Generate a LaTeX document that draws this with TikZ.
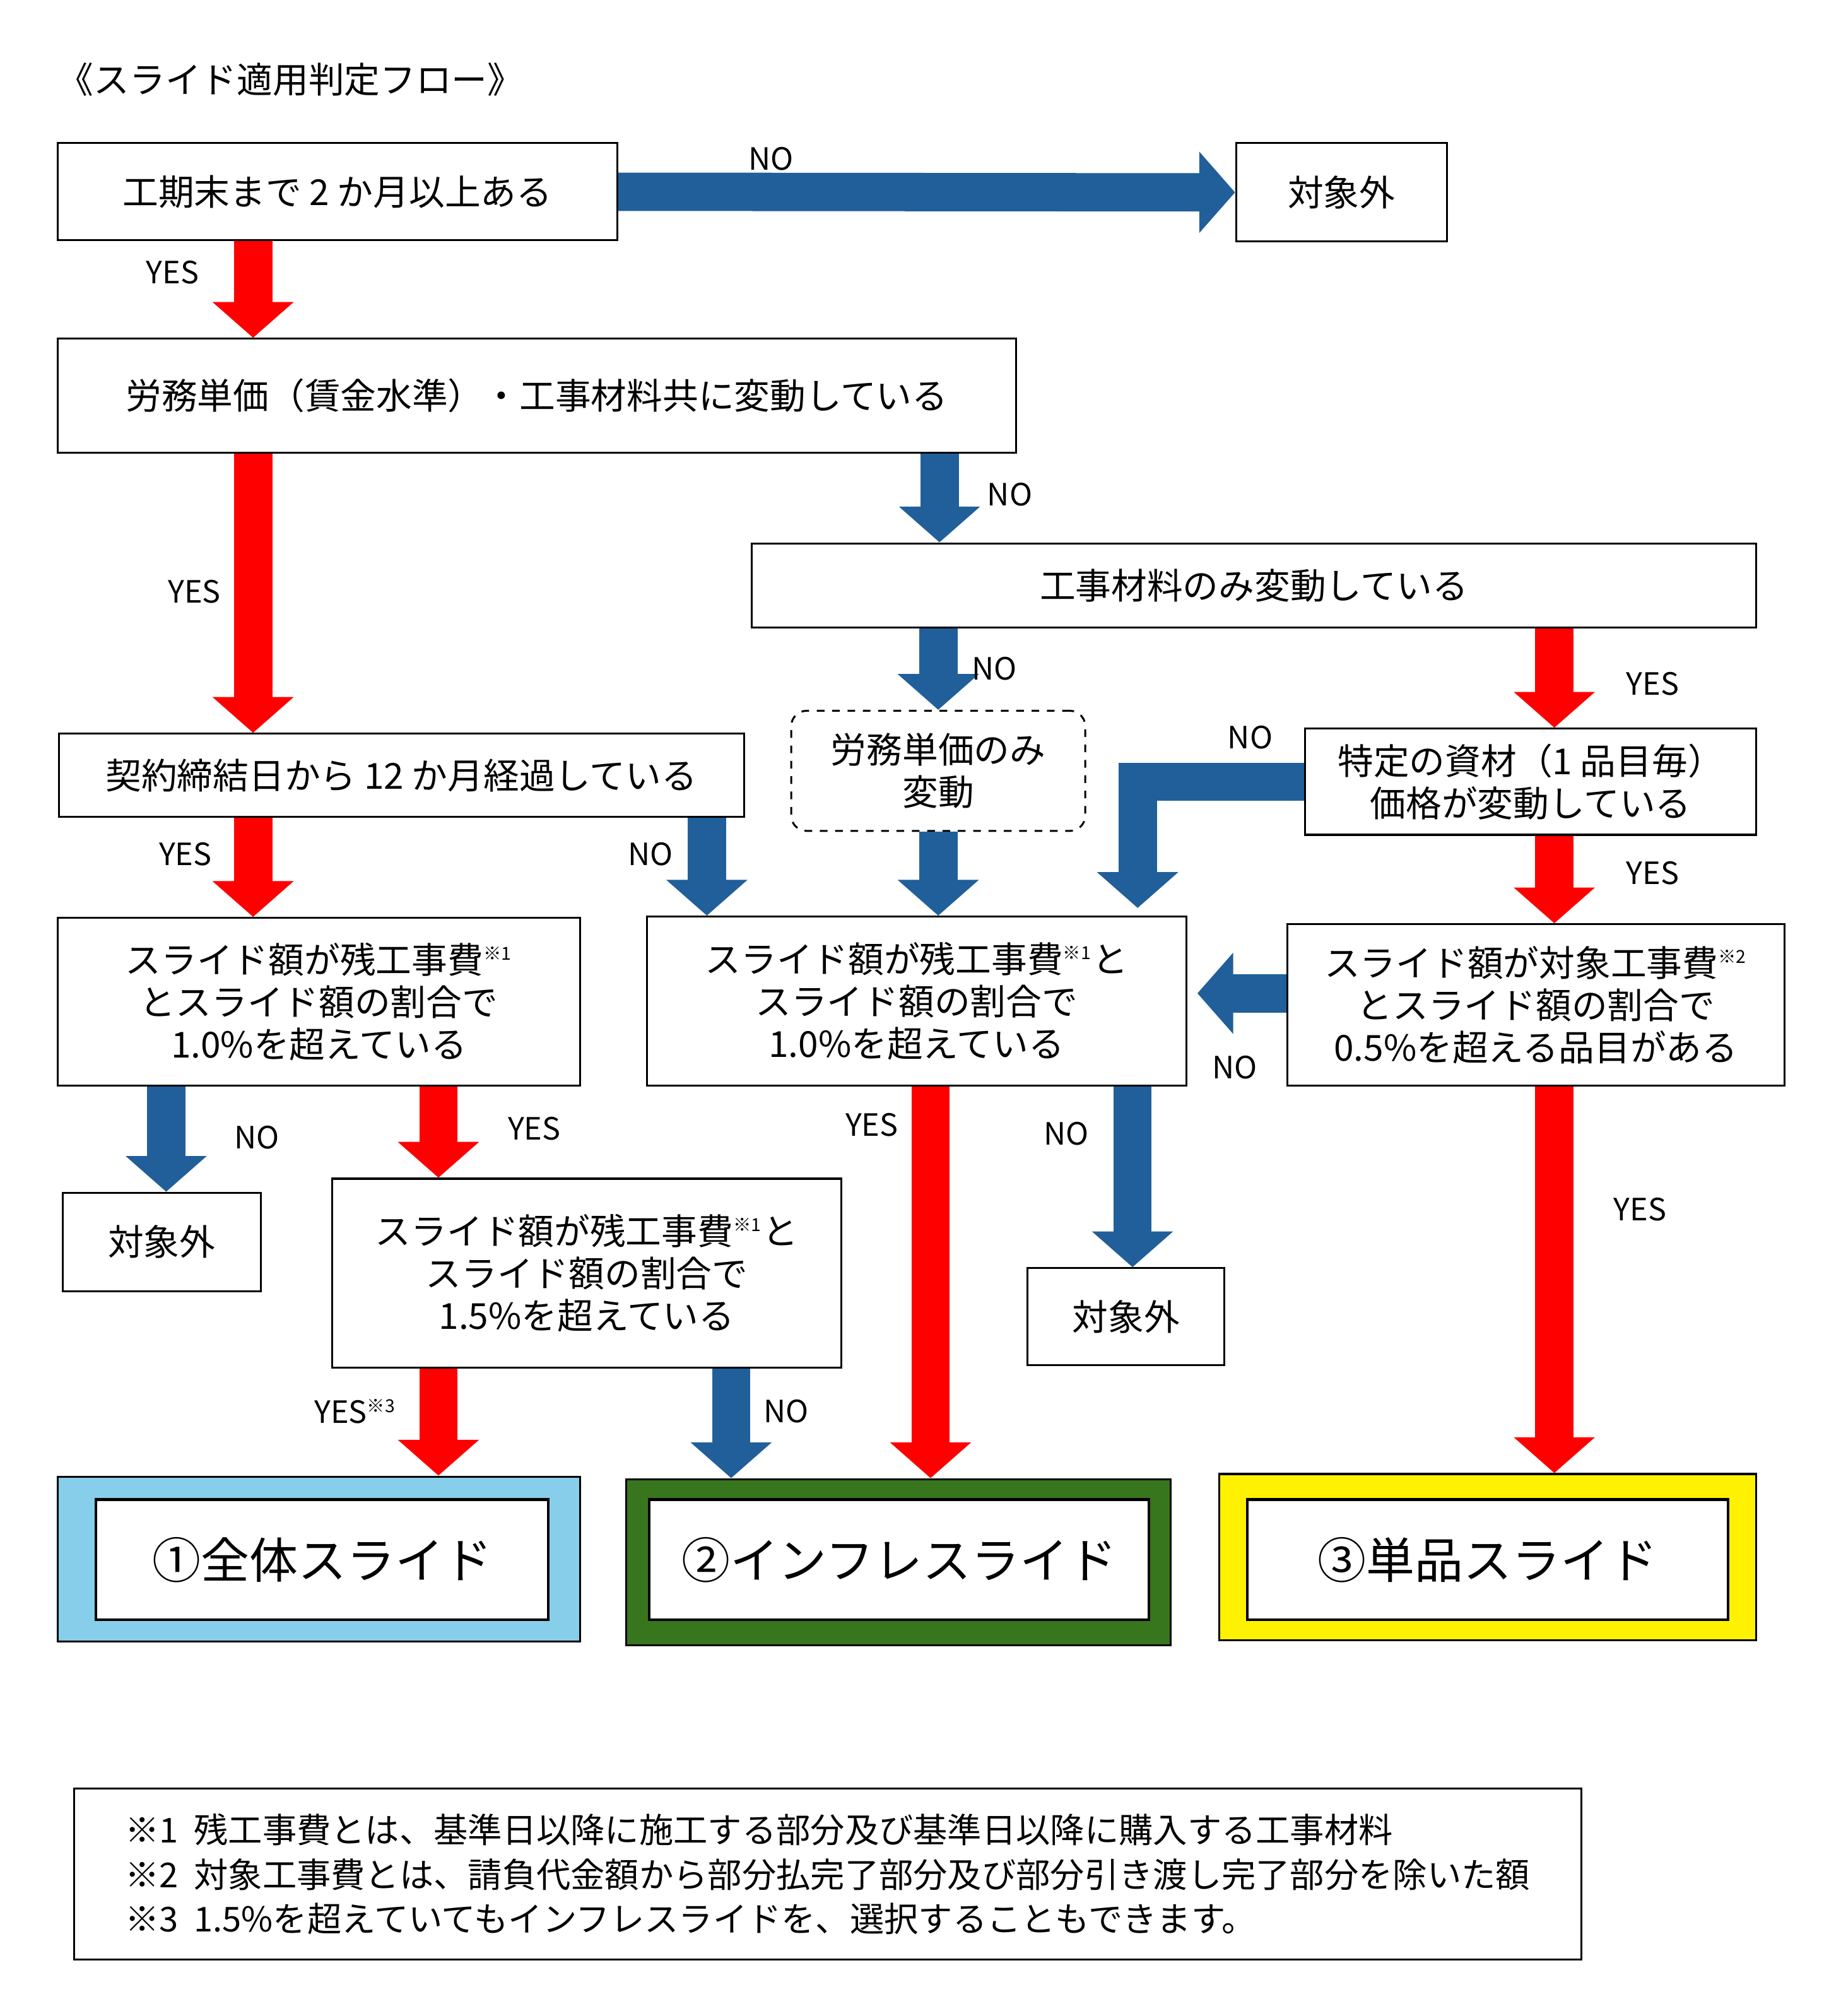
\documentclass[tikz,border=0pt]{standalone}
\usepackage{fontspec}
\setmainfont{Noto Sans CJK JP}
\usetikzlibrary{arrows.meta,calc}
\definecolor{ablue}{RGB}{33,95,154}
\definecolor{ared}{RGB}{255,0,0}
\definecolor{lblue}{RGB}{135,206,235}
\definecolor{dgreen}{RGB}{56,118,29}
\newcommand\sups[1]{\textsuperscript{\scriptsize #1}}
\tikzset{
  box/.style={draw=black,line width=0.75pt,inner sep=0pt,align=center,font=\fontsize{14}{16.5}\selectfont},
  redarr/.style={draw=ared,line width=15pt,-{Triangle[width=31pt,length=14pt]}},
  bluearr/.style={draw=ablue,line width=15pt,-{Triangle[width=31pt,length=14pt]}},
  lab/.style={font=\fontsize{12}{14}\selectfont,inner sep=0pt},
  res/.style={draw=black,line width=1pt,fill=white,inner sep=0pt,font=\fontsize{19}{22}\selectfont}
}
\begin{document}
\begin{tikzpicture}[x=0.5pt,y=-0.5pt]
\useasboundingbox (0,0) rectangle (1440,1577);
\node[anchor=west,inner sep=0pt,font=\fontsize{14}{16}\selectfont] (title) at (45,62) {《スライド適用判定フロー》};
\node[box,minimum width=219pt,minimum height=38pt] (b1) at (264,150) {工期末まで 2 か月以上ある};
\node[box,minimum width=82.5pt,minimum height=38.5pt] (o1) at (1049.5,150.5) {対象外};
\node[box,minimum width=375pt,minimum height=44.5pt] (b2) at (420,309.5) {労務単価（賃金水準）・工事材料共に変動している};
\node[box,minimum width=393pt,minimum height=33pt] (b3) at (981,458) {工事材料のみ変動している};
\node[box,dashed,rounded corners=6pt,minimum width=115pt,minimum height=47pt] (dash) at (734,603) {労務単価のみ\\変動};
\node[box,minimum width=176.5pt,minimum height=41.5pt] (b5) at (1197.5,611.5) {特定の資材（1 品目毎）\\価格が変動している};
\node[box,minimum width=268pt,minimum height=32.5pt] (b4) at (314,606.5) {契約締結日から 12 か月経過している};
\node[box,minimum width=204.5pt,minimum height=65.5pt] (b8) at (249.5,783.5) {スライド額が残工事費\sups{※1}\\とスライド額の割合で\\1.0\%を超えている};
\node[box,minimum width=211pt,minimum height=66pt] (b7) at (717,783) {スライド額が残工事費\sups{※1}と\\スライド額の割合で\\1.0\%を超えている};
\node[box,minimum width=194.5pt,minimum height=63pt] (b6) at (1201.5,786) {スライド額が対象工事費\sups{※2}\\とスライド額の割合で\\0.5\%を超える品目がある};
\node[box,minimum width=77.5pt,minimum height=38.5pt] (o2) at (126.5,971.5) {対象外};
\node[box,minimum width=199pt,minimum height=74pt] (b10) at (459,996) {スライド額が残工事費\sups{※1}と\\スライド額の割合で\\1.5\%を超えている};
\node[box,minimum width=77pt,minimum height=38pt] (o3) at (881,1030) {対象外};
\node[draw=black,line width=0.75pt,fill=lblue,minimum width=204.5pt,minimum height=64.5pt,inner sep=0pt] (r1) at (249.5,1219.5) {};
\node[res,minimum width=177pt,minimum height=47pt] (r1i) at (252,1220) {①全体スライド};
\node[draw=black,line width=0.75pt,fill=dgreen,minimum width=213pt,minimum height=65pt,inner sep=0pt] (r2) at (703,1222) {};
\node[res,minimum width=195.5pt,minimum height=47pt] (r2i) at (703.5,1220) {②インフレスライド};
\node[draw=black,line width=0.75pt,fill=yellow,minimum width=210pt,minimum height=65pt,inner sep=0pt] (r3) at (1164,1218) {};
\node[res,minimum width=188pt,minimum height=47pt] (r3i) at (1164,1220) {③単品スライド};
\node[draw=black,line width=0.75pt,minimum width=589.5pt,minimum height=67pt,inner sep=0pt,align=left,font=\fontsize{13.4}{17.5}\selectfont] (note) at (647.5,1466) {※1\ \ 残工事費とは、基準日以降に施工する部分及び基準日以降に購入する工事材料\\※2\ \ 対象工事費とは、請負代金額から部分払完了部分及び部分引き渡し完了部分を除いた額\\※3\ \ 1.5\%を超えていてもインフレスライドを、選択することもできます。};
% columns
\coordinate (xA) at (198,0);
\coordinate (xB) at (735,0);
\coordinate (xD) at (1216,0);
\coordinate (xE) at (553,0);
\coordinate (xF) at (130,0);
\coordinate (xG) at (343,0);
\coordinate (xH) at (728,0);
\coordinate (xI) at (886,0);
\coordinate (xJ) at (572,0);
\coordinate (xK) at (890,0);
\coordinate (yM) at (0,777);
% arrows
\draw[bluearr] (b1.east) -- (o1.west);
\draw[redarr] (b1.south -| xA) -- (b2.north -| xA);
\draw[redarr] (b2.south -| xA) -- (b4.north -| xA);
\draw[bluearr] (b2.south -| xB) -- (b3.north -| xB);
\draw[bluearr] (b3.south -| dash.north) -- (dash.north);
\draw[bluearr] (dash.south) -- (b7.north -| dash.south);
\draw[redarr] (b3.south -| xD) -- (b5.north -| xD);
\draw[bluearr] (b5.west) -| ($(b7.north -| xK)+(0,-6)$);
\draw[redarr] (b5.south -| xD) -- (b6.north -| xD);
\draw[bluearr] (b6.west |- yM) -- ($(b7.east |- yM)+(8,0)$);
\draw[redarr] (b4.south -| xA) -- (b8.north -| xA);
\draw[bluearr] (b4.south -| xE) -- (b7.north -| xE);
\draw[bluearr] (b8.south -| xF) -- (o2.north -| xF);
\draw[redarr] (b8.south -| xG) -- (b10.north -| xG);
\draw[redarr] (b7.south -| xH) -- (r2.north -| xH);
\draw[bluearr] (b7.south -| xI) -- (o3.north -| xI);
\draw[redarr] (b10.south -| xG) -- (r1.north -| xG);
\draw[bluearr] (b10.south -| xJ) -- (r2.north -| xJ);
\draw[redarr] (b6.south -| xD) -- (r3.north -| xD);
% labels
\node[lab] (l1) at (603,124) {NO};
\node[lab] (l2) at (135,213) {YES};
\node[lab] (l3) at (152,463) {YES};
\node[lab] (l4) at (790,387) {NO};
\node[lab] (l5) at (778,523) {NO};
\node[lab] (l6) at (1293,535) {YES};
\node[lab] (l7) at (978,577) {NO};
\node[lab] (l8) at (1293,683) {YES};
\node[lab] (l9) at (145,668) {YES};
\node[lab] (l10) at (509,668) {NO};
\node[lab] (l11) at (966,835) {NO};
\node[lab] (l12) at (201,890) {NO};
\node[lab] (l13) at (418,883) {YES};
\node[lab] (l14) at (682,880) {YES};
\node[lab] (l15) at (834,887) {NO};
\node[lab] (l16) at (1283,946) {YES};
\node[lab] (l17) at (278,1104) {YES\sups{※3}};
\node[lab] (l18) at (615,1104) {NO};
\end{tikzpicture}
\end{document}
